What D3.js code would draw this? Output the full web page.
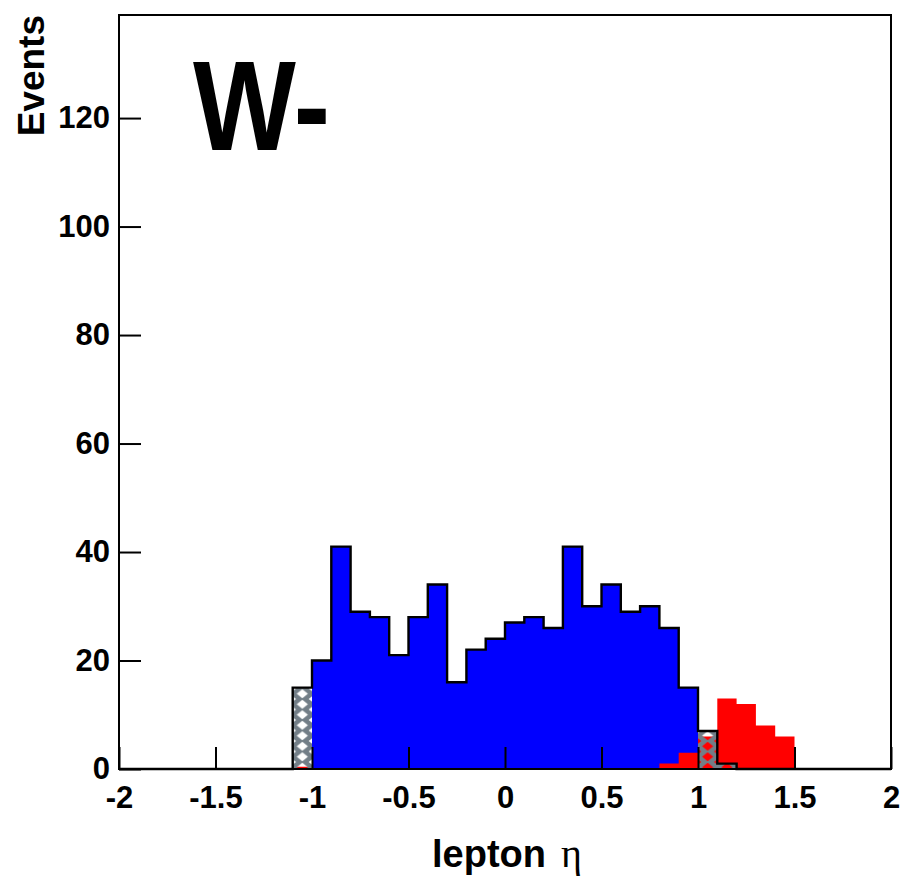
<!DOCTYPE html>
<html>
<head>
<meta charset="utf-8">
<script src="https://cdn.jsdelivr.net/npm/d3@7"></script>
<style>
  html, body { margin: 0; padding: 0; background: #fff; }
  svg { display: block; }
</style>
</head>
<body>
<svg id="chart" width="902" height="880"></svg>
<script>
// ---- data ----
const binLowEdges = [-1.1, -1.0, -0.9, -0.8, -0.7, -0.6, -0.5, -0.4, -0.3, -0.2, -0.1,
                      0.0, 0.1, 0.2, 0.3, 0.4, 0.5, 0.6, 0.7, 0.8, 0.9, 1.0, 1.1, 1.2, 1.3, 1.4];
const binWidth = 0.1;
const signalCounts = [0, 20, 41, 29, 28, 21, 28, 34, 16, 22, 24,
                      27, 28, 26, 41, 30, 34, 29, 30, 26, 15, 0, 0, 0, 0, 0];
const hatchCounts  = [15, 0, 0, 0, 0, 0, 0, 0, 0, 0, 0,
                      0, 0, 0, 0, 0, 0, 0, 0, 0, 0, 7, 1, 0, 0, 0];
const redCounts    = [0.4, 0, 0, 0, 0, 0, 0, 0, 0, 0, 0,
                      0, 0, 0, 0, 0, 0, 0, 0, 1, 3, 6, 13, 12, 8, 6];
const xTicks = [-2, -1.5, -1, -0.5, 0, 0.5, 1, 1.5, 2];
const xTickLabels = ["-2", "-1.5", "-1", "-0.5", "0", "0.5", "1", "1.5", "2"];
const yTicks = [0, 20, 40, 60, 80, 100, 120];
const xDomain = [-2, 2];
const yDomain = [0, 139];

// ---- layout ----
const mLeft = 119, mRight = 891, mTop = 15, mBottom = 769;
const svg = d3.select("#chart");
const x = d3.scaleLinear().domain(xDomain).range([mLeft, mRight]);
const y = d3.scaleLinear().domain(yDomain).range([mBottom, mTop]);

// cross-hatch pattern: gray lattice with transparent diamonds, one tile per bin width
const tileW = x(binWidth) - x(0), tileH = 10.5;
const defs = svg.append("defs");
const pat = defs.append("pattern")
  .attr("id", "xhatch").attr("patternUnits", "userSpaceOnUse")
  .attr("x", x(binLowEdges[0])).attr("y", 688.5)
  .attr("width", tileW).attr("height", tileH);
function diamond(cx, cy, hw, hh) {
  return `M${cx - hw},${cy} L${cx},${cy - hh} L${cx + hw},${cy} L${cx},${cy + hh} Z`;
}
const cw = tileW / 2, ch = tileH / 2;
const hatchPath = `M0,0 H${tileW} V${tileH} H0 Z ` +
  diamond(cw, ch, 5.6, 4.5) + " " +
  diamond(0, 0, 3.3, 2.7) + " " + diamond(tileW, 0, 3.3, 2.7) + " " +
  diamond(0, tileH, 3.3, 2.7) + " " + diamond(tileW, tileH, 3.3, 2.7);
pat.append("path").attr("d", hatchPath).attr("fill", "#727e87").attr("fill-rule", "evenodd");

// step data helpers
function stepPoints(lo, hi) {
  const pts = binLowEdges.map((e, i) => ({ e: e, lo: lo[i], hi: hi[i] }));
  const last = binLowEdges.length - 1;
  pts.push({ e: binLowEdges[last] + binWidth, lo: lo[last], hi: hi[last] });
  return pts;
}
const zeros = binLowEdges.map(() => 0);
const totalCounts = signalCounts.map((v, i) => v + hatchCounts[i]);

const area = d3.area().curve(d3.curveStepAfter)
  .x(d => x(d.e)).y0(d => y(d.lo)).y1(d => y(d.hi));

// blue signal
svg.append("path").datum(stepPoints(zeros, signalCounts))
  .attr("d", area).attr("fill", "#0000ff");
// red overlay
svg.append("path").datum(stepPoints(zeros, redCounts))
  .attr("d", area).attr("fill", "#ff0000");
// hatched background stacked on signal
svg.append("path").datum(stepPoints(signalCounts, totalCounts))
  .attr("d", area).attr("fill", "url(#xhatch)");

// outline of stack
const outlinePts = [];
outlinePts.push([x(xDomain[0]), y(0)]);
outlinePts.push([x(binLowEdges[0]), y(0)]);
binLowEdges.forEach((e, i) => {
  outlinePts.push([x(e), y(totalCounts[i])]);
  outlinePts.push([x(e + binWidth), y(totalCounts[i])]);
});
outlinePts.push([x(binLowEdges[binLowEdges.length - 1] + binWidth), y(0)]);
outlinePts.push([x(xDomain[1]), y(0)]);
svg.append("path").attr("d", d3.line()(outlinePts))
  .attr("fill", "none").attr("stroke", "#000").attr("stroke-width", 2.4)
  .attr("stroke-linejoin", "miter");

// frame
svg.append("rect").attr("x", mLeft).attr("y", mTop)
  .attr("width", mRight - mLeft).attr("height", mBottom - mTop)
  .attr("fill", "none").attr("stroke", "#000").attr("stroke-width", 2);

const tickFont = "'Liberation Sans', Arial, Helvetica, sans-serif";

// y axis
const yAxis = svg.append("g").attr("transform", `translate(${mLeft},0)`)
  .call(d3.axisLeft(y).tickValues(yTicks).tickSize(-22).tickPadding(9).tickFormat(d3.format("d")));
yAxis.select(".domain").remove();
yAxis.selectAll(".tick line").attr("stroke", "#000").attr("stroke-width", 2);
yAxis.selectAll(".tick text").attr("font-family", tickFont).attr("font-weight", "bold")
  .attr("font-size", 31).attr("fill", "#000");

// x axis
const xAxis = svg.append("g").attr("transform", `translate(0,${mBottom})`)
  .call(d3.axisBottom(x).tickValues(xTicks).tickSize(-22).tickPadding(17)
    .tickFormat((d, i) => xTickLabels[i]));
xAxis.select(".domain").remove();
xAxis.selectAll(".tick line").attr("stroke", "#000").attr("stroke-width", 2);
xAxis.selectAll(".tick text").attr("font-family", tickFont).attr("font-weight", "bold")
  .attr("font-size", 31).attr("fill", "#000");

// axis titles
svg.append("text")
  .attr("transform", "translate(44,15) rotate(-90)")
  .attr("text-anchor", "end")
  .attr("font-family", tickFont).attr("font-weight", "bold").attr("font-size", 37)
  .text("Events");

const xt = svg.append("text").attr("x", 432).attr("y", 867).attr("text-anchor", "start")
  .attr("font-family", tickFont).attr("font-weight", "bold").attr("font-size", 38);
xt.append("tspan").text("lepton");
xt.append("tspan").attr("x", 561).attr("font-family", "'Liberation Serif', 'DejaVu Serif', serif")
  .attr("font-weight", "normal").attr("font-size", 40).text("η");

// W- label
svg.append("text").attr("x", 193).attr("y", 150)
  .attr("font-family", tickFont).attr("font-weight", "bold").attr("font-size", 128)
  .attr("textLength", 137).attr("lengthAdjust", "spacingAndGlyphs")
  .text("W-");
</script>
</body>
</html>
